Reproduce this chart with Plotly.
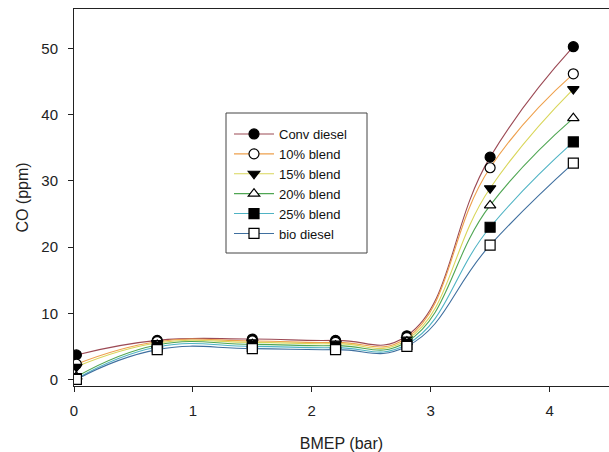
import plotly.graph_objects as go

# Data
bmep = [0.02, 0.7, 1.5, 2.2, 2.8, 3.5, 4.2]
conv_diesel = [3.7, 5.9, 6.1, 5.9, 6.6, 33.6, 50.3]
blend_10 = [2.3, 5.7, 5.8, 5.6, 6.3, 32.0, 46.2]
blend_15 = [1.9, 5.5, 5.6, 5.4, 6.0, 28.9, 43.9]
blend_20 = [0.4, 5.2, 5.3, 5.1, 5.7, 26.3, 39.5]
blend_25 = [0.1, 4.9, 5.0, 4.8, 5.3, 23.0, 35.9]
bio_diesel = [0.0, 4.5, 4.65, 4.5, 5.0, 20.3, 32.7]

series_names = ["Conv diesel", "10% blend", "15% blend", "20% blend", "25% blend", "bio diesel"]
series_values = [conv_diesel, blend_10, blend_15, blend_20, blend_25, bio_diesel]
line_colors = ["#9c4a55", "#eea04c", "#d9d65a", "#4fa653", "#4fb3c4", "#3f6f9f"]
symbols = ["circle", "circle", "triangle-down", "triangle-up", "square", "square"]
fills = ["black", "white", "black", "white", "black", "white"]

fig = go.Figure()
for name, vals, col, sym, fc in zip(series_names, series_values, line_colors, symbols, fills):
    fig.add_trace(go.Scatter(
        x=bmep, y=vals, name=name, mode="lines+markers",
        line=dict(color=col, width=1.1, shape="spline", smoothing=1.3),
        marker=dict(symbol=sym, size=10, color=fc,
                    line=dict(color="black", width=1.2)),
    ))

# legend frame in pixel terms (plot area: x 74..609 px, y 9..386 px)
frame = dict(type="rect", xref="paper", yref="paper",
             x0=(226 - 74) / 535, x1=(367 - 74) / 535,
             y0=(386 - 253) / 377, y1=(386 - 113) / 377,
             line=dict(color="#444444", width=1), fillcolor="white", layer="below")

fig.update_layout(
    width=609, height=452,
    margin=dict(l=74, r=0, t=9, b=66),
    paper_bgcolor="white", plot_bgcolor="white",
    font=dict(family="Liberation Sans, Arial, sans-serif", color="#222", size=15),
    shapes=[frame],
    showlegend=True,
    legend=dict(
        x=(229 - 74) / 535, y=(386 - 119) / 377, xanchor="left", yanchor="top",
        bgcolor="rgba(0,0,0,0)", borderwidth=0,
        font=dict(size=13, color="#111"),
        itemwidth=40, tracegroupgap=0,
    ),
    xaxis=dict(
        range=[0, 4.5], tickvals=[0, 1, 2, 3, 4],
        showgrid=False, zeroline=False,
        showline=True, linecolor="#222", linewidth=1, mirror=True,
        ticks="outside", ticklen=5, tickcolor="#222", ticklabelstandoff=6,
        title=dict(text="BMEP (bar)", font=dict(size=16), standoff=21),
    ),
    yaxis=dict(
        range=[-1, 56], tickvals=[0, 10, 20, 30, 40, 50],
        showgrid=False, zeroline=False,
        showline=True, linecolor="#222", linewidth=1,
        ticks="outside", ticklen=5, tickcolor="#222", ticklabelstandoff=7,
        title=dict(text="CO (ppm)", font=dict(size=16), standoff=8),
    ),
)

fig.write_html("out.html")
